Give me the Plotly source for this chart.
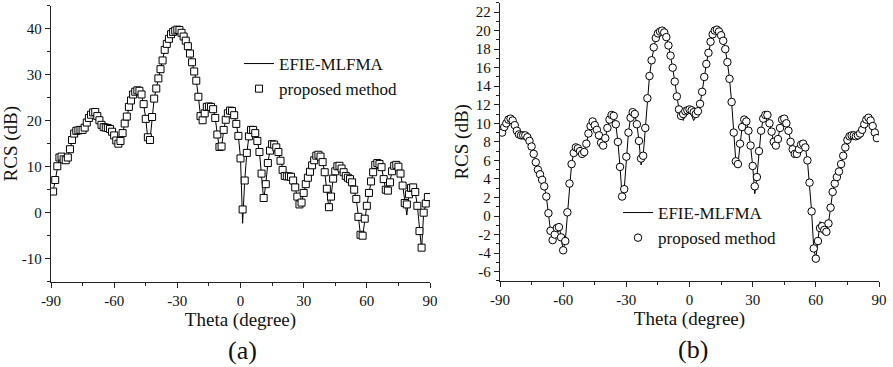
import plotly.graph_objects as go
from plotly.subplots import make_subplots

# ---------------- data ----------------
theta = list(range(-89, 90))

# (a) proposed method (squares)
rcs_a_proposed = [
    4.6, 7.1, 10.1, 12.0, 12.2, 11.6, 11.4, 12.0, 13.8, 15.8,
    17.2, 17.8, 17.9, 18.0, 18.0, 18.5, 19.6, 20.6, 21.3, 21.8,
    21.9, 21.0, 20.1, 19.1, 18.6, 18.5, 18.4, 18.2, 17.6, 16.8,
    15.7, 15.0, 15.6, 17.3, 19.4, 20.9, 23.0, 24.4, 25.7, 26.3,
    26.6, 26.5, 25.7, 23.6, 20.4, 16.4, 15.8, 20.8, 24.8, 27.0,
    29.2, 31.2, 33.1, 35.4, 36.7, 37.8, 38.8, 39.3, 39.6, 39.8,
    39.7, 39.1, 38.3, 37.4, 36.2, 34.6, 32.7, 30.7, 28.7, 25.2,
    21.0, 20.1, 21.6, 23.0, 23.1, 23.0, 22.5, 20.6, 17.0, 14.3,
    14.4, 18.0, 20.2, 21.6, 22.2, 22.1, 21.2, 19.3, 16.7, 11.8,
    0.7, 7.0, 13.0, 16.6, 18.0, 18.0, 17.3, 15.6, 13.2, 8.5,
    3.2, 6.2, 10.8, 13.5, 14.9, 14.8, 14.2, 13.2, 11.3, 9.3,
    8.0, 7.9, 7.9, 7.8, 7.0, 5.5, 3.5, 1.8, 2.2, 4.3,
    6.2, 7.6, 8.9, 10.3, 11.4, 12.4, 12.6, 12.2, 11.0, 8.8,
    5.2, 1.2, 3.5, 7.4, 9.0, 10.1, 10.2, 9.6, 8.8, 8.0,
    7.6, 7.3, 6.6, 5.0, 3.0, -0.9, -4.8, -5.0, -1.3, 1.5,
    4.3, 6.8, 8.8, 10.4, 10.8, 10.6, 9.9, 7.3, 5.0, 4.8,
    6.6, 9.0, 10.2, 10.4, 10.0, 8.5, 5.9, 2.1, 1.8, 4.0,
    5.4, 5.5, 4.5, 1.5, -4.0, -7.6, 0.0, 2.0, 3.4,
]
# (a) EFIE-MLFMA reference (line)
rcs_a_efie = [
    4.6, 7.1, 10.1, 12.0, 12.2, 11.6, 11.4, 12.0, 13.8, 15.8,
    17.2, 17.8, 17.9, 18.0, 18.0, 18.5, 19.6, 20.6, 21.3, 21.8,
    21.9, 21.0, 20.1, 19.1, 18.6, 18.5, 18.4, 18.2, 17.6, 16.8,
    15.7, 15.0, 15.6, 17.3, 19.4, 20.9, 23.0, 24.4, 25.7, 26.3,
    26.6, 26.5, 25.7, 23.6, 20.4, 16.0, 15.6, 20.8, 24.8, 27.0,
    29.2, 31.2, 33.1, 35.4, 36.7, 37.8, 38.8, 39.3, 39.6, 39.8,
    39.7, 39.1, 38.3, 37.4, 36.2, 34.6, 32.7, 30.7, 28.7, 25.2,
    21.0, 19.8, 21.6, 23.0, 23.1, 23.0, 22.5, 20.6, 17.0, 14.0,
    14.1, 18.0, 20.2, 21.6, 22.2, 22.1, 21.2, 19.3, 16.7, 11.8,
    -2.3, 7.0, 13.0, 16.6, 18.0, 18.0, 17.3, 15.6, 13.2, 8.5,
    2.8, 6.2, 10.8, 13.5, 14.9, 14.8, 14.2, 13.2, 11.3, 9.3,
    8.0, 7.9, 7.9, 7.8, 7.0, 5.5, 3.5, 1.4, 2.0, 4.3,
    6.2, 7.6, 8.9, 10.3, 11.4, 12.4, 12.6, 12.2, 11.0, 8.8,
    5.2, 0.8, 3.5, 7.4, 9.0, 10.1, 10.2, 9.6, 8.8, 8.0,
    7.6, 7.3, 6.6, 5.0, 3.0, -0.9, -5.0, -5.2, -1.3, 1.5,
    4.3, 6.8, 8.8, 10.4, 10.8, 10.6, 9.9, 7.3, 4.8, 4.7,
    6.6, 9.0, 10.2, 10.4, 10.0, 8.5, 5.9, 2.1, -0.5, 4.0,
    5.4, 5.5, 4.5, 1.5, -4.0, -8.0, 0.0, 2.0, 3.4,
]

# (b) proposed method (circles)
rcs_b_proposed = [
    9.0, 9.6, 10.0, 10.4, 10.5, 10.3, 9.8, 9.2, 8.8, 8.7,
    8.7, 8.7, 8.5, 8.1, 7.5, 6.7, 5.8, 5.0, 4.5, 3.9,
    3.2, 2.1, 0.3, -1.6, -2.6, -2.0, -1.3, -1.2, -2.3, -3.7,
    -2.7, 0.4, 3.5, 5.6, 6.8, 7.4, 7.3, 7.0, 6.7, 6.9,
    7.8, 8.9, 9.7, 10.2, 9.8, 9.3, 8.7, 7.9, 7.6, 8.4,
    9.5, 10.4, 10.9, 10.8, 9.9, 8.0, 5.3, 2.1, 2.9, 6.4,
    9.0, 10.6, 11.2, 11.0, 9.9, 8.1, 6.2, 6.5, 9.5, 12.7,
    15.1, 16.8, 18.2, 19.2, 19.7, 19.9, 20.0, 19.8, 19.3, 18.4,
    17.3, 16.0, 14.5, 12.9, 11.5, 10.8, 11.0, 11.3, 11.4, 11.5,
    11.4, 11.2, 11.0, 11.3, 12.1, 13.4, 15.0, 16.4, 17.6, 18.8,
    19.6, 20.0, 20.1, 19.9, 19.5, 18.9, 18.0, 16.6, 14.8, 12.3,
    9.0, 5.9, 5.6, 7.8, 9.6, 10.4, 10.2, 9.2, 7.6, 5.4,
    3.2, 4.2, 7.0, 9.2, 10.5, 10.9, 10.9, 10.0, 9.1, 8.0,
    7.6, 8.3, 9.5, 10.4, 10.5, 10.0, 9.2, 8.0, 7.2, 6.7,
    6.7, 7.2, 7.7, 7.8, 7.4, 6.0, 3.6, 0.5, -3.5, -4.6,
    -2.7, -1.3, -1.1, -1.5, -1.7, -0.8, 0.9, 2.6, 3.5, 4.2,
    4.8, 5.6, 6.5, 7.4, 8.2, 8.6, 8.7, 8.7, 8.6, 8.7,
    8.9, 9.3, 9.9, 10.4, 10.6, 10.3, 9.7, 9.0, 8.4,
]
# (b) EFIE-MLFMA reference (line)
rcs_b_efie = [
    9.0, 9.6, 10.0, 10.4, 10.5, 10.3, 9.8, 9.2, 8.8, 8.7,
    8.7, 8.7, 8.5, 8.1, 7.5, 6.7, 5.8, 5.0, 4.5, 3.9,
    3.2, 2.1, 0.3, -1.6, -2.6, -2.0, -1.0, -0.8, -2.3, -3.7,
    -2.7, 0.4, 3.5, 5.6, 6.8, 7.4, 7.3, 7.0, 6.7, 6.9,
    7.8, 8.9, 9.7, 10.2, 9.8, 9.3, 8.7, 7.9, 7.6, 8.4,
    9.5, 10.4, 10.9, 10.8, 9.9, 8.0, 5.3, 2.1, 2.9, 6.4,
    9.0, 10.6, 11.2, 11.0, 9.9, 8.1, 5.5, 6.5, 9.5, 12.7,
    15.1, 16.8, 18.2, 19.2, 19.7, 19.9, 20.0, 19.8, 19.3, 18.4,
    17.3, 16.0, 14.5, 12.9, 11.5, 10.6, 10.3, 10.9, 11.3, 11.4,
    10.9, 10.3, 10.7, 11.3, 12.1, 13.4, 15.0, 16.4, 17.6, 18.8,
    19.6, 20.0, 20.1, 19.9, 19.5, 18.9, 18.0, 16.6, 14.8, 12.3,
    9.0, 5.9, 5.6, 7.8, 9.6, 10.4, 10.2, 9.2, 7.6, 5.4,
    2.4, 4.2, 7.0, 9.2, 10.5, 10.9, 10.9, 10.0, 9.1, 8.0,
    7.6, 8.3, 9.5, 10.4, 10.5, 10.0, 9.2, 8.0, 7.2, 6.7,
    6.7, 7.2, 7.7, 7.8, 7.4, 6.0, 3.6, 0.5, -3.5, -4.6,
    -2.7, -0.6, -1.1, -1.5, -1.7, -0.8, 0.9, 2.6, 3.5, 4.2,
    4.8, 5.6, 6.5, 7.4, 8.2, 8.6, 8.7, 8.7, 8.6, 8.7,
    8.9, 9.3, 9.9, 10.4, 10.6, 10.3, 9.7, 9.0, 8.4,
]

x_tickvals = [-90, -60, -30, 0, 30, 60, 90]
x_ticktext = ["-90", "-60", "-30", "0", "30", "60", "90"]
ya_tickvals = [-10, 0, 10, 20, 30, 40]
ya_ticktext = ["-10", "0", "10", "20", "30", "40"]
yb_tickvals = list(range(-6, 23, 2))
yb_ticktext = [str(v) for v in yb_tickvals]

series_names = ["EFIE-MLFMA", "proposed method"]
panel_labels = ["(a)", "(b)"]
x_title = "Theta (degree)"
y_title = "RCS (dB)"

# ---------------- figure ----------------
FONT = "Liberation Serif"
W, H = 893, 367

fig = make_subplots(rows=1, cols=2)

fig.add_trace(go.Scatter(x=theta, y=rcs_a_efie, mode="lines", name=series_names[0],
                         line=dict(color="black", width=1), legend="legend"), 1, 1)
fig.add_trace(go.Scatter(x=theta, y=rcs_a_proposed, mode="markers", name=series_names[1],
                         marker=dict(symbol="square", size=7, color="white",
                                     line=dict(color="black", width=1)),
                         legend="legend"), 1, 1)
fig.add_trace(go.Scatter(x=theta, y=rcs_b_efie, mode="lines", name=series_names[0],
                         line=dict(color="black", width=1), legend="legend2"), 1, 2)
fig.add_trace(go.Scatter(x=theta, y=rcs_b_proposed, mode="markers", name=series_names[1],
                         marker=dict(symbol="circle", size=7.5, color="white",
                                     line=dict(color="black", width=1)),
                         legend="legend2"), 1, 2)

axis_common = dict(showline=True, linecolor="#222", linewidth=1.3, ticks="outside",
                   ticklen=5, tickwidth=1.2, tickcolor="#222", showgrid=False,
                   zeroline=False, automargin=False,
                   tickfont=dict(family=FONT, size=15, color="#111"))

fig.update_xaxes(**axis_common, range=[-90, 90], tickvals=x_tickvals, ticktext=x_ticktext,
                 minor=dict(ticks="outside", ticklen=3, tickwidth=1.2, tickcolor="#222", dtick=15, tick0=-90),
                 title=dict(text=x_title, font=dict(family=FONT, size=19, color="#111"), standoff=0))
fig.update_xaxes(domain=[51 / W, 430 / W], row=1, col=1)
fig.update_xaxes(domain=[500 / W, 879 / W], row=1, col=2)

fig.update_yaxes(**axis_common,
                 title=dict(text=y_title, font=dict(family=FONT, size=19, color="#111"), standoff=2))
fig.update_yaxes(range=[-15, 45], tickvals=ya_tickvals, ticktext=ya_ticktext,
                 minor=dict(ticks="outside", ticklen=3, tickwidth=1.2, tickcolor="#222", dtick=5, tick0=-15),
                 domain=[1 - 281.7 / H, 1 - 5.7 / H], row=1, col=1)
fig.update_yaxes(range=[-7, 23], tickvals=yb_tickvals, ticktext=yb_ticktext,
                 minor=dict(ticks="outside", ticklen=3, tickwidth=1.2, tickcolor="#222", dtick=1, tick0=-7),
                 domain=[1 - 280.9 / H, 1 - 2.8 / H], row=1, col=2)

legend_common = dict(font=dict(family=FONT, size=17, color="#111"), bgcolor="rgba(0,0,0,0)",
                     borderwidth=0, xanchor="left", yanchor="top", tracegroupgap=0)
fig.update_layout(
    width=W, height=H,
    margin=dict(l=0, r=0, t=0, b=0),
    paper_bgcolor="white", plot_bgcolor="white",
    showlegend=True,
    font=dict(family=FONT, color="#111"),
    legend=dict(**legend_common, x=239 / W, y=1 - 46 / H),
    legend2=dict(**legend_common, x=618 / W, y=1 - 195 / H),
    annotations=[
        dict(text=panel_labels[0], x=242 / W, y=1 - 350 / H, xref="paper", yref="paper",
             xanchor="center", yanchor="middle",
             showarrow=False, font=dict(family=FONT, size=26, color="#111")),
        dict(text=panel_labels[1], x=693 / W, y=1 - 349 / H, xref="paper", yref="paper",
             xanchor="center", yanchor="middle",
             showarrow=False, font=dict(family=FONT, size=26, color="#111")),
    ],
)

fig.write_html("out.html", config={"displayModeBar": False},
               post_script="document.body.style.margin='0';document.body.style.padding='0';"
                           "document.body.style.overflow='hidden';")
